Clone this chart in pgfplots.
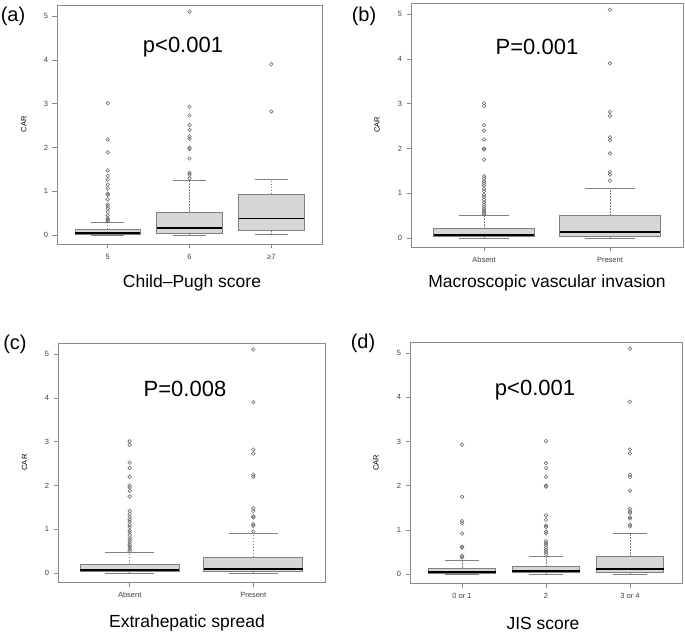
\documentclass[border=0pt]{standalone}
\usepackage{fontspec}
\setmainfont{Liberation Sans}
\usepackage{pgfplots}
\pgfplotsset{compat=1.18}
\usepgfplotslibrary{statistics}
\definecolor{framegray}{HTML}{8A8A8A}
\definecolor{boxgray}{HTML}{7F7F7F}
\definecolor{boxfill}{HTML}{D6D6D6}
\definecolor{outgray}{HTML}{707070}
\definecolor{ticktext}{HTML}{404040}
\pgfplotsset{
  rpanel/.style={
    anchor=south west, scale only axis,
    ymin=-0.2, ymax=5.25,
    ytick={0,1,2,3,4,5},
    xtick pos=bottom, ytick pos=left,
    tick align=outside, major tick length=4.5pt,
    axis line style={draw=framegray, line width=0.9pt},
    tick style={draw=framegray, line width=0.6pt},
    /pgf/number format/assume math mode=true,
    ticklabel style={font=\fontsize{7.5}{8}\selectfont, text=ticktext},
    xticklabel style={yshift=-2.5pt},
    yticklabel style={xshift=-1pt},
    ylabel={CAR},
    ylabel style={font=\fontsize{7.5}{8}\selectfont, text=black, at={(axis description cs:-0.125,0.5)}, anchor=center},
    boxplot/draw direction=y,
    boxplot/box extend=0.8,
    boxplot/whisker extend=0.4,
    boxplot/every box/.style={draw=boxgray, fill=boxfill, line width=0.9pt},
    boxplot/every median/.style={draw=black, line width=1.7pt},
    boxplot/every whisker/.style={draw=boxgray, line width=0.7pt},
    boxplot/draw/lower whisker/.code={%
      \draw[/pgfplots/boxplot/every whisker/.try, dash pattern=on 1.5pt off 1.5pt]
        (boxplot box cs:\pgfplotsboxplotvalue{lower quartile},0.5) --
        (boxplot box cs:\pgfplotsboxplotvalue{lower whisker},0.5);
      \draw[/pgfplots/boxplot/every whisker/.try]
        (boxplot whisker cs:\pgfplotsboxplotvalue{lower whisker},0) --
        (boxplot whisker cs:\pgfplotsboxplotvalue{lower whisker},1);
    },
    boxplot/draw/upper whisker/.code={%
      \draw[/pgfplots/boxplot/every whisker/.try, dash pattern=on 1.5pt off 1.5pt]
        (boxplot box cs:\pgfplotsboxplotvalue{upper quartile},0.5) --
        (boxplot box cs:\pgfplotsboxplotvalue{upper whisker},0.5);
      \draw[/pgfplots/boxplot/every whisker/.try]
        (boxplot whisker cs:\pgfplotsboxplotvalue{upper whisker},0) --
        (boxplot whisker cs:\pgfplotsboxplotvalue{upper whisker},1);
    },
  },
  rbox/.style={mark=o, mark size=1.8pt, mark options={draw=outgray, line width=0.6pt}},
}
\begin{document}
\begin{tikzpicture}
\path (0pt,0pt) rectangle (685pt,635pt);

% ---------- (a) ----------
\begin{axis}[rpanel, at={(57pt,391pt)}, width=265pt, height=239pt,
  xmin=0.38, xmax=3.62, xtick={1,2,3}, xticklabels={5,6,≥7}]
\addplot[rbox, boxplot prepared={draw position=1, lower whisker=0, lower quartile=0.02, median=0.045, upper quartile=0.14, upper whisker=0.30}]
 table[row sep=\\, y index=0] {y\\ 3.01\\ 2.18\\ 1.89\\ 1.48\\ 1.35\\ 1.27\\ 1.15\\ 1.07\\ 0.95\\ 0.92\\ 0.82\\ 0.70\\ 0.66\\ 0.60\\ 0.53\\ 0.45\\ 0.38\\ 0.35\\ 0.32\\};
\addplot[rbox, boxplot prepared={draw position=2, lower whisker=0, lower quartile=0.05, median=0.16, upper quartile=0.53, upper whisker=1.25}]
 table[row sep=\\, y index=0] {y\\ 5.10\\ 2.93\\ 2.73\\ 2.51\\ 2.40\\ 2.25\\ 2.20\\ 1.99\\ 1.97\\ 1.75\\ 1.42\\ 1.38\\ 1.30\\};
\addplot[rbox, boxplot prepared={draw position=3, lower whisker=0.02, lower quartile=0.11, median=0.38, upper quartile=0.94, upper whisker=1.27}]
 table[row sep=\\, y index=0] {y\\ 3.90\\ 2.82\\};
\end{axis}

% ---------- (b) ----------
\begin{axis}[rpanel, at={(411pt,388pt)}, width=272pt, height=244pt,
  xmin=0.42, xmax=2.58, xtick={1,2}, xticklabels={Absent,Present}]
\addplot[rbox, boxplot prepared={draw position=1, lower whisker=0, lower quartile=0.04, median=0.07, upper quartile=0.21, upper whisker=0.51}]
 table[row sep=\\, y index=0] {y\\ 3.01\\ 2.95\\ 2.52\\ 2.40\\ 2.20\\ 2.00\\ 1.98\\ 1.75\\ 1.38\\ 1.33\\ 1.27\\ 1.22\\ 1.17\\ 1.10\\ 1.05\\ 0.97\\ 0.92\\ 0.86\\ 0.80\\ 0.75\\ 0.70\\ 0.65\\ 0.60\\ 0.56\\ 0.53\\};
\addplot[rbox, boxplot prepared={draw position=2, lower whisker=0, lower quartile=0.03, median=0.13, upper quartile=0.50, upper whisker=1.12}]
 table[row sep=\\, y index=0] {y\\ 5.10\\ 3.90\\ 2.82\\ 2.73\\ 2.25\\ 2.18\\ 1.89\\ 1.48\\ 1.42\\ 1.28\\};
\end{axis}

% ---------- (c) ----------
\begin{axis}[rpanel, at={(58pt,53pt)}, width=267pt, height=239pt,
  xmin=0.42, xmax=2.58, xtick={1,2}, xticklabels={Absent,Present}]
\addplot[rbox, boxplot prepared={draw position=1, lower whisker=0, lower quartile=0.03, median=0.075, upper quartile=0.20, upper whisker=0.47}]
 table[row sep=\\, y index=0] {y\\ 3.01\\ 2.93\\ 2.52\\ 2.40\\ 2.20\\ 2.00\\ 1.95\\ 1.88\\ 1.75\\ 1.42\\ 1.35\\ 1.28\\ 1.22\\ 1.17\\ 1.10\\ 1.05\\ 0.97\\ 0.93\\ 0.87\\ 0.80\\ 0.75\\ 0.70\\ 0.65\\ 0.60\\ 0.55\\ 0.50\\};
\addplot[rbox, boxplot prepared={draw position=2, lower whisker=0, lower quartile=0.03, median=0.10, upper quartile=0.37, upper whisker=0.90}]
 table[row sep=\\, y index=0] {y\\ 5.10\\ 3.90\\ 2.82\\ 2.73\\ 2.25\\ 2.20\\ 1.48\\ 1.42\\ 1.30\\ 1.27\\ 1.12\\ 1.08\\ 0.95\\};
\end{axis}

% ---------- (d) ----------
\begin{axis}[rpanel, at={(410pt,52pt)}, width=272pt, height=241pt,
  xmin=0.38, xmax=3.62, xtick={1,2,3}, xticklabels={0 or 1,2,3 or 4}]
\addplot[rbox, boxplot prepared={draw position=1, lower whisker=0, lower quartile=0.01, median=0.045, upper quartile=0.14, upper whisker=0.31}]
 table[row sep=\\, y index=0] {y\\ 2.93\\ 1.75\\ 1.20\\ 1.15\\ 0.92\\ 0.62\\ 0.60\\ 0.41\\ 0.38\\};
\addplot[rbox, boxplot prepared={draw position=2, lower whisker=0, lower quartile=0.03, median=0.07, upper quartile=0.17, upper whisker=0.41}]
 table[row sep=\\, y index=0] {y\\ 3.01\\ 2.51\\ 2.40\\ 2.20\\ 2.00\\ 1.98\\ 1.33\\ 1.23\\ 1.10\\ 1.07\\ 0.96\\ 0.92\\ 0.75\\ 0.70\\ 0.66\\ 0.60\\ 0.55\\ 0.50\\ 0.45\\};
\addplot[rbox, boxplot prepared={draw position=3, lower whisker=0, lower quartile=0.04, median=0.12, upper quartile=0.39, upper whisker=0.92}]
 table[row sep=\\, y index=0] {y\\ 5.10\\ 3.90\\ 2.82\\ 2.73\\ 2.25\\ 2.20\\ 1.89\\ 1.48\\ 1.42\\ 1.38\\ 1.28\\ 1.26\\ 1.12\\ 1.08\\};
\end{axis}

% ---------- texts ----------
\begin{scope}[every node/.style={inner sep=0pt, anchor=center}]
\node[font=\fontsize{20}{22}\selectfont] at (13pt,619pt) {(a)};
\node[font=\fontsize{20}{22}\selectfont] at (364pt,619pt) {(b)};
\node[font=\fontsize{20}{22}\selectfont] at (15pt,291pt) {(c)};
\node[font=\fontsize{20}{22}\selectfont] at (363pt,292pt) {(d)};
\node[font=\fontsize{22}{24}\selectfont] at (183pt,588pt) {p<0.001};
\node[font=\fontsize{22}{24}\selectfont] at (537pt,588pt) {P=0.001};
\node[font=\fontsize{22}{24}\selectfont] at (185pt,246pt) {P=0.008};
\node[font=\fontsize{22}{24}\selectfont] at (535pt,245pt) {p<0.001};
\node[font=\fontsize{17.5}{20}\selectfont] at (192pt,352pt) {Child–Pugh score};
\node[font=\fontsize{17.5}{20}\selectfont] at (547pt,352pt) {Macroscopic vascular invasion};
\node[font=\fontsize{17.5}{20}\selectfont] at (187pt,12pt) {Extrahepatic spread};
\node[font=\fontsize{17.5}{20}\selectfont] at (543pt,12pt) {JIS score};
\end{scope}
\end{tikzpicture}
\end{document}
